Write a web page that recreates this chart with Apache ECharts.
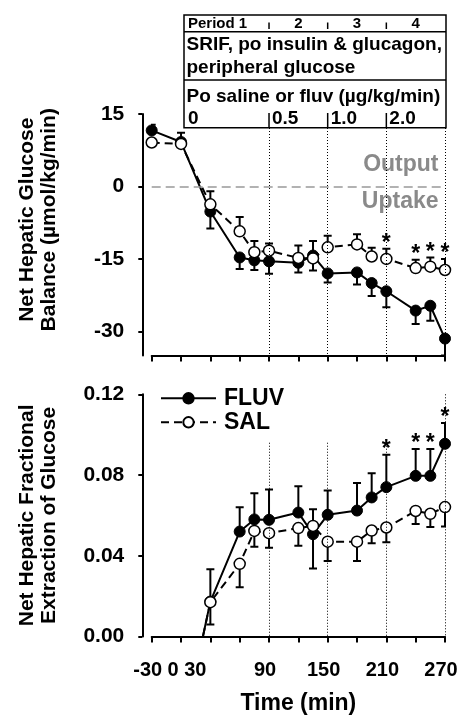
<!DOCTYPE html>
<html><head><meta charset="utf-8">
<script src="https://cdn.jsdelivr.net/npm/echarts@6/dist/echarts.min.js"></script>
<style>html,body{margin:0;padding:0;background:#fff}#c{width:468px;height:715px}</style>
</head><body><div id="c"></div>
<script>
// ---------- data ----------
const times = [-30, 0, 30, 60, 75, 90, 120, 135, 150, 180, 195, 210, 240, 255, 270];
const balFluv = [11.6, 9.2, -5.2, -14.7, -15.3, -15.5, -15.8, -14.3, -18.0, -17.8, -20.0, -21.7, -25.7, -24.7, -31.5];
const balFluvErr = [1.2, 1.9, -3.5, -2.4, -2.0, -2.6, -2.0, 3.0, -1.9, -2.5, -2.7, -3.3, -2.8, -3.1, -3.5];
const balSal = [9.1, 8.8, -3.7, -9.3, -13.6, -13.3, -14.8, -14.9, -12.6, -12.0, -14.5, -15.0, -16.9, -16.6, -17.3];
const balSalErr = [0.6, 0.8, 2.7, 3.0, 2.3, 1.5, 2.6, -2.5, 2.4, 2.1, 1.8, 2.1, 1.7, 1.9, 2.3];
const extFluv = [null, -0.051, 0.0173, 0.052, 0.058, 0.0578, 0.0614, 0.0507, 0.0603, 0.0624, 0.0689, 0.0740, 0.0796, 0.0796, 0.0955];
const extFluvErr = [null, null, 0.016, 0.012, 0.013, 0.015, 0.013, -0.017, 0.012, 0.0136, 0.012, 0.016, 0.0133, 0.0133, 0.0103];
const extSal = [null, -0.050, 0.0170, 0.036, 0.0523, 0.0512, 0.0537, 0.0548, 0.047, 0.047, 0.0525, 0.054, 0.0622, 0.0608, 0.0641];
const extSalErr = [null, null, -0.011, -0.0116, -0.0078, -0.0072, -0.0087, 0.0083, -0.0096, -0.0096, -0.0063, -0.0073, -0.0064, -0.0066, -0.0096];
const balStarTimes = [210, 240, 255, 270];
const extStarTimes = [210, 240, 255, 270];
const periodEdges = [90, 150, 210, 270];
const xTickLabels = [-30, 0, 30, 90, 150, 210, 270];
const balTicks = [-30, -15, 0, 15];
const extTicks = [0, 0.04, 0.08, 0.12];
const periodNames = ['Period 1', '2', '3', '4'];
const doseLabels = ['0', '0.5', '1.0', '2.0'];

// ---------- helpers ----------
const FF = '"Liberation Sans", Arial, Helvetica, sans-serif';
const pairs = (vals) => times.map((t, i) => vals[i] == null ? [t, null] : [t, vals[i]]);

function errSeries(xi, yi, vals, errs) {
  const data = [];
  times.forEach((t, i) => {
    if (vals[i] != null && errs[i] != null) data.push([t, vals[i], vals[i] + errs[i]]);
  });
  return {
    type: 'custom', xAxisIndex: xi, yAxisIndex: yi, clip: true, silent: true, z: 2,
    encode: { x: 0, y: [1, 2] },
    renderItem(params, api) {
      const p0 = api.coord([api.value(0), api.value(1)]);
      const p1 = api.coord([api.value(0), api.value(2)]);
      return { type: 'group', children: [
        { type: 'line', shape: { x1: p0[0], y1: p0[1], x2: p1[0], y2: p1[1] }, style: { stroke: '#000', lineWidth: 2 } },
        { type: 'line', shape: { x1: p1[0] - 4, y1: p1[1], x2: p1[0] + 4, y2: p1[1] }, style: { stroke: '#000', lineWidth: 2 } }
      ] };
    },
    data
  };
}

function starSeries(xi, yi, starTimes, vals, errs, gap) {
  const data = starTimes.map(t => {
    const i = times.indexOf(t);
    return [t, vals[i] + errs[i]];
  });
  return {
    type: 'custom', xAxisIndex: xi, yAxisIndex: yi, silent: true, z: 6,
    encode: { x: 0, y: 1 },
    renderItem(params, api) {
      const p = api.coord([api.value(0), api.value(1)]);
      return { type: 'text', x: p[0], y: p[1] - gap,
        style: { text: '*', font: 'bold 23px ' + FF, fill: '#000', textAlign: 'center', textVerticalAlign: 'middle' } };
    },
    data
  };
}

function dotted(xi, yi, tops, bottom) {
  return {
    type: 'line', xAxisIndex: xi, yAxisIndex: yi, data: [], silent: true, z: 1,
    markLine: {
      silent: true, symbol: 'none', animation: false, label: { show: false },
      lineStyle: { color: '#000', width: 1, type: [1, 2] },
      data: periodEdges.map((t, k) => [{ coord: [t, tops[k]] }, { coord: [t, bottom] }])
    }
  };
}

const fluvLine = { color: '#000', width: 2 };
const salLine = { color: '#000', width: 2, type: [8, 5] };
const fluvItem = { color: '#000', borderColor: '#000', borderWidth: 1 };
const salItem = { color: '#fff', borderColor: '#000', borderWidth: 1.5 };

const xAxisBase = {
  type: 'value', min: -30, max: 270, interval: 30,
  axisLine: { show: true, onZero: false, lineStyle: { color: '#000', width: 2 } },
  axisTick: { show: true, inside: false, length: 6, lineStyle: { color: '#000', width: 2 } },
  axisLabel: { show: false },
  splitLine: { show: false }
};
const yLabelStyle = { color: '#000', fontSize: 21, fontWeight: 'bold', fontFamily: FF, margin: 18 };
const yAxisBase = {
  type: 'value', offset: 9.4,
  axisLine: { show: true, onZero: false, lineStyle: { color: '#000', width: 2 } },
  axisTick: { show: true, length: 4, lineStyle: { color: '#000', width: 2 } },
  splitLine: { show: false },
  nameLocation: 'middle'
};
const yNameStyle = { color: '#000', fontSize: 21, fontWeight: 'bold', fontFamily: FF, lineHeight: 22 };

const option = {
  animation: false,
  backgroundColor: '#fff',
  grid: [
    { left: 151.7, right: 23, top: 114, height: 241.5, outerBoundsMode: 'none', containLabel: false },
    { left: 151.7, right: 23, top: 394.3, height: 242.2, outerBoundsMode: 'none', containLabel: false }
  ],
  xAxis: [
    Object.assign({}, xAxisBase, { gridIndex: 0 }),
    Object.assign({}, xAxisBase, { gridIndex: 1,
      name: 'Time (min)', nameLocation: 'middle', nameGap: 56,
      nameTextStyle: { color: '#000', fontSize: 23, fontWeight: 'bold', fontFamily: FF, lineHeight: 23 } })
  ],
  yAxis: [
    Object.assign({}, yAxisBase, { gridIndex: 0, min: -35, max: 15,
      axisTick: Object.assign({}, yAxisBase.axisTick, { customValues: balTicks }),
      axisLabel: Object.assign({}, yLabelStyle, { customValues: balTicks }),
      name: 'Net Hepatic Glucose\nBalance (µmol/kg/min)', nameGap: 82,
      nameTextStyle: Object.assign({ padding: [0, 0, 0, 30] }, yNameStyle) }),
    Object.assign({}, yAxisBase, { gridIndex: 1, min: 0, max: 0.12, interval: 0.04,
      axisLabel: Object.assign({}, yLabelStyle, { formatter: v => v.toFixed(2) }),
      name: 'Net Hepatic Fractional\nExtraction of Glucose', nameGap: 82,
      nameTextStyle: yNameStyle })
  ],
  legend: {
    data: ['FLUV', 'SAL'], orient: 'vertical', left: 155, top: 381.8,
    itemWidth: 55, itemHeight: 13, itemGap: 1, selectedMode: false,
    textStyle: { color: '#000', fontSize: 23, fontWeight: 'bold', fontFamily: FF, lineHeight: 23, padding: [0, 0, 0, 3] }
  },
  series: [
    dotted(0, 0, [12.1, 12.1, 12.1, 12.1], -35),
    dotted(1, 1, [0.096, 0.096, 0.096, 0.12], 0),
    errSeries(0, 0, balFluv, balFluvErr),
    errSeries(0, 0, balSal, balSalErr),
    errSeries(1, 1, extFluv, extFluvErr),
    errSeries(1, 1, extSal, extSalErr),
    { name: 'FLUV', type: 'line', xAxisIndex: 0, yAxisIndex: 0, data: pairs(balFluv), z: 3,
      symbol: 'circle', symbolSize: 11, lineStyle: fluvLine, itemStyle: fluvItem, silent: true,
      markLine: { silent: true, symbol: 'none', label: { show: false }, animation: false,
        lineStyle: { color: '#999', width: 1.5, type: [9, 5] }, data: [{ yAxis: 0 }] } },
    { name: 'SAL', type: 'line', xAxisIndex: 0, yAxisIndex: 0, data: pairs(balSal), z: 4,
      symbol: 'circle', symbolSize: 11, lineStyle: salLine, itemStyle: salItem, silent: true },
    { name: 'FLUV', type: 'line', xAxisIndex: 1, yAxisIndex: 1, data: pairs(extFluv), z: 3, clip: true,
      symbol: 'circle', symbolSize: 11, lineStyle: fluvLine, itemStyle: fluvItem, silent: true },
    { name: 'SAL', type: 'line', xAxisIndex: 1, yAxisIndex: 1, data: pairs(extSal), z: 4, clip: true,
      symbol: 'circle', symbolSize: 11, lineStyle: salLine, itemStyle: salItem, silent: true },
    starSeries(0, 0, balStarTimes, balSal, balSalErr, 5),
    starSeries(1, 1, extStarTimes, extFluv, extFluvErr, 5)
  ]
};

const chart = echarts.init(document.getElementById('c'), null, { renderer: 'canvas' });
chart.setOption(option);

// ---------- positions from the x scale ----------
const px = t => chart.convertToPixel({ xAxisIndex: 0 }, t);
const boxL = 184, boxR = px(270) + 1;
const yTop = 15, yR1 = 31.7, yR2 = 80, yBot = 127.7;
const ln = (x1, y1, x2, y2) => ({ type: 'line', shape: { x1, y1, x2, y2 }, style: { stroke: '#000', lineWidth: 1.5 }, silent: true });
const txt = (text, x, y, size, align, color) => ({ type: 'text', x, y, silent: true,
  style: { text, font: 'bold ' + size + 'px ' + FF, fill: color || '#000', textAlign: align || 'left', textVerticalAlign: 'middle' } });
const g = [];
g.push({ type: 'rect', shape: { x: boxL, y: yTop, width: boxR - boxL, height: yBot - yTop }, style: { fill: 'none', stroke: '#000', lineWidth: 1.5 }, silent: true });
g.push(ln(boxL, yR1, boxR, yR1));
g.push(ln(boxL, yR2, boxR, yR2));
const inner = periodEdges.slice(0, 3);
inner.forEach(t => { g.push(ln(px(t), 22.5, px(t), 29)); g.push(ln(px(t), 113, px(t), yBot)); });
const segs = [0].concat(periodEdges);
periodNames.forEach((nm, k) => {
  if (k === 0) g.push(txt(nm, 188, 23.5, 15));
  else g.push(txt(nm, (px(segs[k]) + px(segs[k + 1])) / 2, 23.5, 15, 'center'));
});
g.push(txt('SRIF, po insulin & glucagon,', 186.5, 45, 19));
g.push(txt('peripheral glucose', 186.5, 68, 19));
g.push(txt('Po saline or fluv (µg/kg/min)', 186.5, 97, 19));
doseLabels.forEach((d, k) => {
  const x = k === 0 ? 188 : px(segs[k]) + 3;
  g.push(txt(d, x, 118.5, 19));
});
g.push(txt('Output', 438.5, 164.5, 23, 'right', '#8a8a8a'));
g.push(txt('Uptake', 438.5, 202, 23, 'right', '#8a8a8a'));
// x tick labels of the lower panel (crowded -30/0/30 nudged left as in the original)
const xLabelShift = { '-30': -4, '0': -8, '30': -15 };
xTickLabels.forEach(t => {
  g.push(txt(String(t), px(t) + (xLabelShift[String(t)] !== undefined ? xLabelShift[String(t)] : -4), 670, 20, 'center'));
});
chart.setOption({ graphic: g });
</script>
</body></html>
